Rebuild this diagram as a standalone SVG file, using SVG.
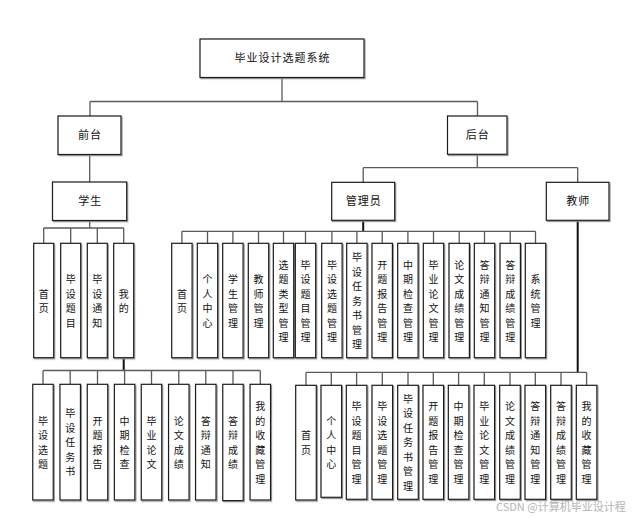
<svg xmlns="http://www.w3.org/2000/svg" width="638" height="518" viewBox="0 0 638 518">
<style>
.bx{fill:#fff;stroke:#1a1a1a;stroke-width:1.2;filter:url(#sh)}
.t{font-family:"Noto Sans CJK SC","Noto Sans",sans-serif;font-size:11px;letter-spacing:1px;fill:#111;text-anchor:middle}
.v{font-family:"Noto Sans CJK SC","Noto Sans",sans-serif;font-size:10px;fill:#111;text-anchor:middle}
.ln{fill:none;stroke:#5a5a5a;stroke-width:1.3}
.lk{fill:none;stroke:#111;stroke-width:2}
.wm{font-family:"Noto Sans CJK SC","Noto Sans",sans-serif;font-size:11px;fill:#b4b4b4}
</style>
<defs>
<filter id="sh" x="-20%" y="-20%" width="140%" height="140%">
<feDropShadow dx="1" dy="1.2" stdDeviation="0.5" flood-color="#8a8a8a" flood-opacity="0.9"/>
</filter>
</defs>
<rect width="638" height="518" fill="#fff"/>

<g id="connectors">
<path class="ln" d="M282,77.5V101.5M90,101.5H477.5M90,101.5V116M477.5,101.5V116"/>
<path class="ln" d="M89.7,154.5V182"/>
<path class="ln" d="M89.7,220.5V228M43.7,228H123.7M43.7,228V243.3M70.7,228V243.3M97.3,228V243.3M123.7,228V243.3"/>
<path class="lk" d="M123.7,357.7V370.5"/>
<path class="ln" d="M43,370.5H260.3M43,370.5V384.3M70.2,370.5V384.3M97.5,370.5V384.3M124.6,370.5V384.3M151.5,370.5V384.3M178.8,370.5V384.3M205.8,370.5V384.3M233,370.5V384.3M260.3,370.5V384.3"/>
<path class="ln" d="M477.3,154.3V167.7M363.2,167.7H577.7M363.2,167.7V182.3M577.7,167.7V182.3"/>
<path class="lk" d="M363.2,220.3V231.3"/>
<path class="ln" d="M181.9,231.3H535.5M181.9,231.3V243.3M207.5,231.3V243.3M232.9,231.3V243.3M258.5,231.3V243.3M283.5,231.3V243.3M305.5,231.3V243.3M331.9,231.3V243.3M356.9,231.3V243.3M382.2,231.3V243.3M407.9,231.3V243.3M433.5,231.3V243.3M459.2,231.3V243.3M484.5,231.3V243.3M510.2,231.3V243.3M535.5,231.3V243.3"/>
<path class="lk" d="M577.7,220.3V372.3"/>
<path class="ln" d="M306,372.3H586.6M306,372.3V385.3M331.3,372.3V385.3M356.6,372.3V385.3M382.3,372.3V385.3M408,372.3V385.3M433.3,372.3V385.3M458.6,372.3V385.3M484.3,372.3V385.3M510,372.3V385.3M535.3,372.3V385.3M561,372.3V385.3M586.6,372.3V385.3"/>
</g>

<g id="root"><rect class="bx" x="200" y="39" width="164" height="38.5"/><text class="t" x="282.5" y="62">毕业设计选题系统</text></g>
<g id="qiantai"><rect class="bx" x="58" y="116" width="63" height="38.5"/><text class="t" x="90" y="139">前台</text></g>
<g id="houtai"><rect class="bx" x="447.5" y="116" width="59.5" height="38.3"/><text class="t" x="477.8" y="139">后台</text></g>
<g id="xuesheng"><rect class="bx" x="52.5" y="182" width="74.2" height="38.5"/><text class="t" x="90.2" y="205">学生</text></g>
<g id="guanliyuan"><rect class="bx" x="331.7" y="182.3" width="63" height="38"/><text class="t" x="363.7" y="205">管理员</text></g>
<g id="jiaoshi"><rect class="bx" x="546.3" y="182.3" width="62.7" height="38"/><text class="t" x="578.2" y="205">教师</text></g>

<!-- student first level -->
<g id="s-shouye"><rect class="bx" x="33.7" y="243.3" width="20" height="114.4"/><text class="v"><tspan x="43.7" y="297.5">首</tspan><tspan x="43.7" y="312">页</tspan></text></g>
<g id="s-bishetimu"><rect class="bx" x="60.7" y="243.3" width="20" height="114.4"/><text class="v"><tspan x="70.7" y="283">毕</tspan><tspan x="70.7" y="297.5">设</tspan><tspan x="70.7" y="312">题</tspan><tspan x="70.7" y="326.5">目</tspan></text></g>
<g id="s-bishetongzhi"><rect class="bx" x="87.3" y="243.3" width="20" height="114.4"/><text class="v"><tspan x="97.3" y="283">毕</tspan><tspan x="97.3" y="297.5">设</tspan><tspan x="97.3" y="312">通</tspan><tspan x="97.3" y="326.5">知</tspan></text></g>
<g id="s-wode"><rect class="bx" x="113.7" y="243.3" width="20" height="114.4"/><text class="v"><tspan x="123.7" y="297.5">我</tspan><tspan x="123.7" y="312">的</tspan></text></g>

<!-- student second level -->
<g id="s-bishexuanti"><rect class="bx" x="32.75" y="384.3" width="20.5" height="115.7"/><text class="v"><tspan x="43" y="424.7">毕</tspan><tspan x="43" y="439.2">设</tspan><tspan x="43" y="453.7">选</tspan><tspan x="43" y="468.2">题</tspan></text></g>
<g id="s-renwushu"><rect class="bx" x="59.95" y="384.3" width="20.5" height="115.7"/><text class="v"><tspan x="70.2" y="417.4">毕</tspan><tspan x="70.2" y="431.9">设</tspan><tspan x="70.2" y="446.4">任</tspan><tspan x="70.2" y="460.9">务</tspan><tspan x="70.2" y="475.4">书</tspan></text></g>
<g id="s-kaiti"><rect class="bx" x="87.25" y="384.3" width="20.5" height="115.7"/><text class="v"><tspan x="97.5" y="424.7">开</tspan><tspan x="97.5" y="439.2">题</tspan><tspan x="97.5" y="453.7">报</tspan><tspan x="97.5" y="468.2">告</tspan></text></g>
<g id="s-zhongqi"><rect class="bx" x="114.35" y="384.3" width="20.5" height="115.7"/><text class="v"><tspan x="124.6" y="424.7">中</tspan><tspan x="124.6" y="439.2">期</tspan><tspan x="124.6" y="453.7">检</tspan><tspan x="124.6" y="468.2">查</tspan></text></g>
<g id="s-lunwen"><rect class="bx" x="141.25" y="384.3" width="20.5" height="115.7"/><text class="v"><tspan x="151.5" y="424.7">毕</tspan><tspan x="151.5" y="439.2">业</tspan><tspan x="151.5" y="453.7">论</tspan><tspan x="151.5" y="468.2">文</tspan></text></g>
<g id="s-chengji"><rect class="bx" x="168.55" y="384.3" width="20.5" height="115.7"/><text class="v"><tspan x="178.8" y="424.7">论</tspan><tspan x="178.8" y="439.2">文</tspan><tspan x="178.8" y="453.7">成</tspan><tspan x="178.8" y="468.2">绩</tspan></text></g>
<g id="s-dbtongzhi"><rect class="bx" x="195.55" y="384.3" width="20.5" height="115.7"/><text class="v"><tspan x="205.8" y="424.7">答</tspan><tspan x="205.8" y="439.2">辩</tspan><tspan x="205.8" y="453.7">通</tspan><tspan x="205.8" y="468.2">知</tspan></text></g>
<g id="s-dbchengji"><rect class="bx" x="222.75" y="384.3" width="20.5" height="116.3"/><text class="v"><tspan x="233" y="424.7">答</tspan><tspan x="233" y="439.2">辩</tspan><tspan x="233" y="453.7">成</tspan><tspan x="233" y="468.2">绩</tspan></text></g>
<g id="s-shoucang"><rect class="bx" x="250.05" y="384.3" width="20.5" height="115.7"/><text class="v"><tspan x="260.3" y="410.2">我</tspan><tspan x="260.3" y="424.7">的</tspan><tspan x="260.3" y="439.2">收</tspan><tspan x="260.3" y="453.7">藏</tspan><tspan x="260.3" y="468.2">管</tspan><tspan x="260.3" y="482.7">理</tspan></text></g>

<!-- admin -->
<g id="a-shouye"><rect class="bx" x="171.7" y="243.3" width="20.4" height="114.4"/><text class="v"><tspan x="181.9" y="297.5">首</tspan><tspan x="181.9" y="312">页</tspan></text></g>
<g id="a-geren"><rect class="bx" x="197.3" y="243.3" width="20.4" height="114.4"/><text class="v"><tspan x="207.5" y="283">个</tspan><tspan x="207.5" y="297.5">人</tspan><tspan x="207.5" y="312">中</tspan><tspan x="207.5" y="326.5">心</tspan></text></g>
<g id="a-xuesheng"><rect class="bx" x="222.7" y="243.3" width="20.4" height="114.4"/><text class="v"><tspan x="232.9" y="283">学</tspan><tspan x="232.9" y="297.5">生</tspan><tspan x="232.9" y="312">管</tspan><tspan x="232.9" y="326.5">理</tspan></text></g>
<g id="a-jiaoshi"><rect class="bx" x="248.3" y="243.3" width="20.4" height="114.4"/><text class="v"><tspan x="258.5" y="283">教</tspan><tspan x="258.5" y="297.5">师</tspan><tspan x="258.5" y="312">管</tspan><tspan x="258.5" y="326.5">理</tspan></text></g>
<g id="a-leixing"><rect class="bx" x="273.3" y="243.3" width="20.4" height="114.4"/><text class="v"><tspan x="283.5" y="268.5">选</tspan><tspan x="283.5" y="283">题</tspan><tspan x="283.5" y="297.5">类</tspan><tspan x="283.5" y="312">型</tspan><tspan x="283.5" y="326.5">管</tspan><tspan x="283.5" y="341">理</tspan></text></g>
<g id="a-timu"><rect class="bx" x="295.3" y="243.3" width="20.4" height="114.4"/><text class="v"><tspan x="305.5" y="268.5">毕</tspan><tspan x="305.5" y="283">设</tspan><tspan x="305.5" y="297.5">题</tspan><tspan x="305.5" y="312">目</tspan><tspan x="305.5" y="326.5">管</tspan><tspan x="305.5" y="341">理</tspan></text></g>
<g id="a-xuanti"><rect class="bx" x="321.7" y="243.3" width="20.4" height="114.4"/><text class="v"><tspan x="331.9" y="268.5">毕</tspan><tspan x="331.9" y="283">设</tspan><tspan x="331.9" y="297.5">选</tspan><tspan x="331.9" y="312">题</tspan><tspan x="331.9" y="326.5">管</tspan><tspan x="331.9" y="341">理</tspan></text></g>
<g id="a-renwushu"><rect class="bx" x="346.7" y="243.3" width="20.4" height="114.4"/><text class="v"><tspan x="356.9" y="261.2">毕</tspan><tspan x="356.9" y="275.7">设</tspan><tspan x="356.9" y="290.2">任</tspan><tspan x="356.9" y="304.7">务</tspan><tspan x="356.9" y="319.2">书</tspan><tspan x="356.9" y="333.7">管</tspan><tspan x="356.9" y="348.2">理</tspan></text></g>
<g id="a-kaiti"><rect class="bx" x="372" y="243.3" width="20.4" height="114.4"/><text class="v"><tspan x="382.2" y="268.5">开</tspan><tspan x="382.2" y="283">题</tspan><tspan x="382.2" y="297.5">报</tspan><tspan x="382.2" y="312">告</tspan><tspan x="382.2" y="326.5">管</tspan><tspan x="382.2" y="341">理</tspan></text></g>
<g id="a-zhongqi"><rect class="bx" x="397.7" y="243.3" width="20.4" height="114.4"/><text class="v"><tspan x="407.9" y="268.5">中</tspan><tspan x="407.9" y="283">期</tspan><tspan x="407.9" y="297.5">检</tspan><tspan x="407.9" y="312">查</tspan><tspan x="407.9" y="326.5">管</tspan><tspan x="407.9" y="341">理</tspan></text></g>
<g id="a-lunwen"><rect class="bx" x="423.3" y="243.3" width="20.4" height="114.4"/><text class="v"><tspan x="433.5" y="268.5">毕</tspan><tspan x="433.5" y="283">业</tspan><tspan x="433.5" y="297.5">论</tspan><tspan x="433.5" y="312">文</tspan><tspan x="433.5" y="326.5">管</tspan><tspan x="433.5" y="341">理</tspan></text></g>
<g id="a-chengji"><rect class="bx" x="449" y="243.3" width="20.4" height="114.4"/><text class="v"><tspan x="459.2" y="268.5">论</tspan><tspan x="459.2" y="283">文</tspan><tspan x="459.2" y="297.5">成</tspan><tspan x="459.2" y="312">绩</tspan><tspan x="459.2" y="326.5">管</tspan><tspan x="459.2" y="341">理</tspan></text></g>
<g id="a-dbtongzhi"><rect class="bx" x="474.3" y="243.3" width="20.4" height="114.4"/><text class="v"><tspan x="484.5" y="268.5">答</tspan><tspan x="484.5" y="283">辩</tspan><tspan x="484.5" y="297.5">通</tspan><tspan x="484.5" y="312">知</tspan><tspan x="484.5" y="326.5">管</tspan><tspan x="484.5" y="341">理</tspan></text></g>
<g id="a-dbchengji"><rect class="bx" x="500" y="243.3" width="20.4" height="114.4"/><text class="v"><tspan x="510.2" y="268.5">答</tspan><tspan x="510.2" y="283">辩</tspan><tspan x="510.2" y="297.5">成</tspan><tspan x="510.2" y="312">绩</tspan><tspan x="510.2" y="326.5">管</tspan><tspan x="510.2" y="341">理</tspan></text></g>
<g id="a-xitong"><rect class="bx" x="525.3" y="243.3" width="20.4" height="114.4"/><text class="v"><tspan x="535.5" y="283">系</tspan><tspan x="535.5" y="297.5">统</tspan><tspan x="535.5" y="312">管</tspan><tspan x="535.5" y="326.5">理</tspan></text></g>

<!-- teacher -->
<g id="t-shouye"><rect class="bx" x="295.7" y="385.3" width="20.6" height="114.7"/><text class="v"><tspan x="306" y="439.2">首</tspan><tspan x="306" y="453.7">页</tspan></text></g>
<g id="t-geren"><rect class="bx" x="321" y="385.3" width="20.6" height="112"/><text class="v"><tspan x="331.3" y="424.7">个</tspan><tspan x="331.3" y="439.2">人</tspan><tspan x="331.3" y="453.7">中</tspan><tspan x="331.3" y="468.2">心</tspan></text></g>
<g id="t-timu"><rect class="bx" x="346.3" y="385.3" width="20.6" height="114"/><text class="v"><tspan x="356.6" y="410.2">毕</tspan><tspan x="356.6" y="424.7">设</tspan><tspan x="356.6" y="439.2">题</tspan><tspan x="356.6" y="453.7">目</tspan><tspan x="356.6" y="468.2">管</tspan><tspan x="356.6" y="482.7">理</tspan></text></g>
<g id="t-xuanti"><rect class="bx" x="372" y="385.3" width="20.6" height="114"/><text class="v"><tspan x="382.3" y="410.2">毕</tspan><tspan x="382.3" y="424.7">设</tspan><tspan x="382.3" y="439.2">选</tspan><tspan x="382.3" y="453.7">题</tspan><tspan x="382.3" y="468.2">管</tspan><tspan x="382.3" y="482.7">理</tspan></text></g>
<g id="t-renwushu"><rect class="bx" x="397.7" y="385.3" width="20.6" height="114"/><text class="v"><tspan x="408" y="402.9">毕</tspan><tspan x="408" y="417.4">设</tspan><tspan x="408" y="431.9">任</tspan><tspan x="408" y="446.4">务</tspan><tspan x="408" y="460.9">书</tspan><tspan x="408" y="475.4">管</tspan><tspan x="408" y="489.9">理</tspan></text></g>
<g id="t-kaiti"><rect class="bx" x="423" y="385.3" width="20.6" height="114"/><text class="v"><tspan x="433.3" y="410.2">开</tspan><tspan x="433.3" y="424.7">题</tspan><tspan x="433.3" y="439.2">报</tspan><tspan x="433.3" y="453.7">告</tspan><tspan x="433.3" y="468.2">管</tspan><tspan x="433.3" y="482.7">理</tspan></text></g>
<g id="t-zhongqi"><rect class="bx" x="448.3" y="385.3" width="20.6" height="114"/><text class="v"><tspan x="458.6" y="410.2">中</tspan><tspan x="458.6" y="424.7">期</tspan><tspan x="458.6" y="439.2">检</tspan><tspan x="458.6" y="453.7">查</tspan><tspan x="458.6" y="468.2">管</tspan><tspan x="458.6" y="482.7">理</tspan></text></g>
<g id="t-lunwen"><rect class="bx" x="474" y="385.3" width="20.6" height="114"/><text class="v"><tspan x="484.3" y="410.2">毕</tspan><tspan x="484.3" y="424.7">业</tspan><tspan x="484.3" y="439.2">论</tspan><tspan x="484.3" y="453.7">文</tspan><tspan x="484.3" y="468.2">管</tspan><tspan x="484.3" y="482.7">理</tspan></text></g>
<g id="t-chengji"><rect class="bx" x="499.7" y="385.3" width="20.6" height="114"/><text class="v"><tspan x="510" y="410.2">论</tspan><tspan x="510" y="424.7">文</tspan><tspan x="510" y="439.2">成</tspan><tspan x="510" y="453.7">绩</tspan><tspan x="510" y="468.2">管</tspan><tspan x="510" y="482.7">理</tspan></text></g>
<g id="t-dbtongzhi"><rect class="bx" x="525" y="385.3" width="20.6" height="114"/><text class="v"><tspan x="535.3" y="410.2">答</tspan><tspan x="535.3" y="424.7">辩</tspan><tspan x="535.3" y="439.2">通</tspan><tspan x="535.3" y="453.7">知</tspan><tspan x="535.3" y="468.2">管</tspan><tspan x="535.3" y="482.7">理</tspan></text></g>
<g id="t-dbchengji"><rect class="bx" x="550.7" y="385.3" width="20.6" height="114"/><text class="v"><tspan x="561" y="410.2">答</tspan><tspan x="561" y="424.7">辩</tspan><tspan x="561" y="439.2">成</tspan><tspan x="561" y="453.7">绩</tspan><tspan x="561" y="468.2">管</tspan><tspan x="561" y="482.7">理</tspan></text></g>
<g id="t-shoucang"><rect class="bx" x="576.3" y="385.3" width="20.6" height="114"/><text class="v"><tspan x="586.6" y="410.2">我</tspan><tspan x="586.6" y="424.7">的</tspan><tspan x="586.6" y="439.2">收</tspan><tspan x="586.6" y="453.7">藏</tspan><tspan x="586.6" y="468.2">管</tspan><tspan x="586.6" y="482.7">理</tspan></text></g>

<text class="wm" x="496" y="511">CSDN @计算机毕业设计程</text>
</svg>
